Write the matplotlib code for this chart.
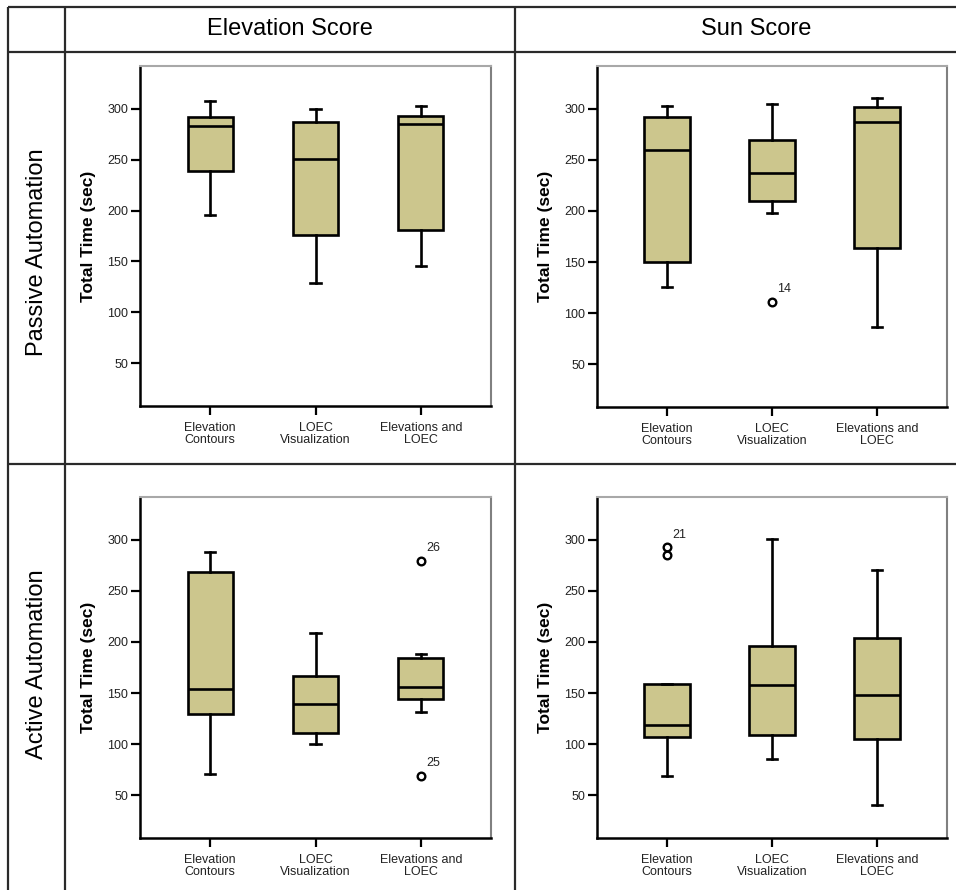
import matplotlib
matplotlib.use("Agg")
import matplotlib.pyplot as plt

plt.rcParams["font.family"] = ["Liberation Sans", "DejaVu Sans"]

# -- Data (Total Time in seconds) ----------------------------------------
CONDITIONS = ["Elevation\nContours", "LOEC\nVisualization", "Elevations and\nLOEC"]
COL_TITLES = ["Elevation Score", "Sun Score"]
ROW_TITLES = ["Passive Automation", "Active Automation"]

# Passive automation, elevation score
pe_whislo = [196, 129, 146]
pe_q1 = [238.6, 175.5, 180.7]
pe_med = [283.3, 250.7, 285.0]
pe_q3 = [291.8, 286.6, 292.5]
pe_whishi = [307.5, 300.0, 303.0]
pe_fliers = [[], [], []]
pe_flier_ids = [[], [], []]

# Passive automation, sun score
ps_whislo = [125.5, 198.4, 86.6]
ps_q1 = [150.0, 209.8, 163.7]
ps_med = [259.8, 237.3, 286.9]
ps_q3 = [291.8, 269.3, 301.6]
ps_whishi = [303.3, 304.9, 310.5]
ps_fliers = [[], [111.0], []]
ps_flier_ids = [[], ["14"], []]

# Active automation, elevation score
ae_whislo = [70.9, 100.2, 131.2]
ae_q1 = [129.9, 110.9, 144.5]
ae_med = [153.7, 139.0, 155.9]
ae_q3 = [268.7, 166.7, 184.6]
ae_whishi = [288.6, 209.0, 188.2]
ae_fliers = [[], [], [279.8, 68.9]]
ae_flier_ids = [[], [], ["26", "25"]]

# Active automation, sun score
as_whislo = [68.6, 84.9, 40.0]
as_q1 = [107.4, 108.7, 105.4]
as_med = [119.0, 157.9, 148.1]
as_q3 = [158.5, 196.3, 203.5]
as_whishi = [159.2, 301.0, 270.7]
as_fliers = [[292.8, 285.3], [], []]
as_flier_ids = [["21", ""], [], []]

Y_TICKS = [50, 100, 150, 200, 250, 300]

PANELS = [
    (pe_whislo, pe_q1, pe_med, pe_q3, pe_whishi, pe_fliers, pe_flier_ids),
    (ps_whislo, ps_q1, ps_med, ps_q3, ps_whishi, ps_fliers, ps_flier_ids),
    (ae_whislo, ae_q1, ae_med, ae_q3, ae_whishi, ae_fliers, ae_flier_ids),
    (as_whislo, as_q1, as_med, as_q3, as_whishi, as_fliers, as_flier_ids),
]

# -- Layout (pixels, top-left origin) -------------------------------------
W, H = 956, 890
AX_BOXES = [  # left, top, right, bottom
    (140, 66, 491, 406),
    (597, 66, 947, 407),
    (140, 497, 491, 838),
    (597, 497, 947, 838),
]

FILL = "#CCC68D"
LINE = "#2a2a2a"

fig = plt.figure(figsize=(W / 100, H / 100), dpi=100)

# table grid drawn on a full-figure pixel axes
bg = fig.add_axes([0, 0, 1, 1])
bg.set_xlim(0, W)
bg.set_ylim(H, 0)
bg.axis("off")
for y in (7, 52, 464):
    bg.plot([8, W], [y, y], color=LINE, lw=1.6, solid_capstyle="butt")
for x in (8, 65, 515):
    bg.plot([x, x], [7, H], color=LINE, lw=1.6, solid_capstyle="butt")

bg.text(290, 29, COL_TITLES[0], fontsize=17, ha="center", va="center")
bg.text(756, 29, COL_TITLES[1], fontsize=17, ha="center", va="center")
bg.text(37, 252, ROW_TITLES[0], fontsize=17, rotation=90, ha="center", va="center")
bg.text(37, 664, ROW_TITLES[1], fontsize=17, rotation=90, ha="center", va="center")

positions = [1, 2, 3]
for (l, t, r, b), (wlo, q1, med, q3, whi, fl, ids) in zip(AX_BOXES, PANELS):
    ax = fig.add_axes([l / W, 1 - b / H, (r - l) / W, (b - t) / H])
    stats = []
    for i in range(3):
        stats.append(dict(whislo=wlo[i], q1=q1[i], med=med[i], q3=q3[i],
                          whishi=whi[i], fliers=fl[i]))
    ax.bxp(stats, positions=positions, widths=0.43, capwidths=0.095,
           patch_artist=True, showfliers=True,
           boxprops=dict(facecolor=FILL, edgecolor="black", linewidth=1.9),
           medianprops=dict(color="black", linewidth=1.9),
           whiskerprops=dict(color="black", linewidth=1.9),
           capprops=dict(color="black", linewidth=1.9),
           flierprops=dict(marker="o", markersize=5.5, markerfacecolor="none",
                           markeredgecolor="black", markeredgewidth=1.7))
    for i in range(3):
        for v, lab in zip(fl[i], ids[i]):
            if lab:
                ax.annotate(lab, xy=(positions[i], v), xytext=(4, 9),
                            textcoords="offset points", ha="left", va="center",
                            fontsize=9, color="#222222")

    ax.set_xlim(0.333, 3.667)
    ax.set_ylim(8, 342)
    ax.set_yticks(Y_TICKS)
    ax.set_xticks(positions)
    ax.set_xticklabels(CONDITIONS, linespacing=0.95)
    ax.tick_params(axis="x", length=6.5, width=1.6, pad=5, labelsize=9,
                   labelcolor="#222222")
    ax.tick_params(axis="y", length=6.5, width=1.6, pad=2, labelsize=9,
                   labelcolor="#222222")
    ax.set_ylabel("Total Time (sec)", fontsize=12.5, fontweight="bold")
    ax.yaxis.set_label_coords(-0.148, 0.5)
    ax.yaxis.label.set_va("center")

    ax.spines["left"].set_linewidth(1.8)
    ax.spines["bottom"].set_linewidth(1.8)
    ax.spines["top"].set_color("#A8A8A8")
    ax.spines["top"].set_linewidth(1.5)
    ax.spines["right"].set_color("#808080")
    ax.spines["right"].set_linewidth(1.5)

fig.savefig("out.png", dpi=100)
